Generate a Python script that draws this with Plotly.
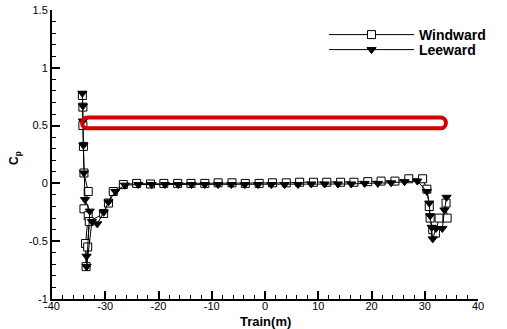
import plotly.graph_objects as go

# ---- data ----
windward_x = [-34.3, -34.2, -34.2, -34.1, -34.0, -33.2, -34.0, -33.2, -33.7, -33.6, -33.3, -33.0,
              -30.3, -29.4, -28.5,
              -26.6, -24.1, -21.5, -19.0, -16.4, -13.9, -11.3, -8.8, -6.2, -3.7, -1.1, 1.4,
              4.0, 6.5, 9.1, 11.6, 14.2, 16.7, 19.3, 21.8, 24.4, 27.0, 29.6,
              30.4, 30.85, 31.0, 31.5, 32.0, 32.7, 34.2, 34.0]
windward_cp = [0.76, 0.66, 0.50, 0.32, 0.09, -0.07, -0.22, -0.28, -0.52, -0.72, -0.55, -0.33,
               -0.26, -0.17, -0.07,
               -0.01, 0.0, -0.005, 0.0, 0.0, 0.0, 0.0, 0.005, 0.005, 0.0, 0.0, 0.005,
               0.005, 0.01, 0.01, 0.01, 0.01, 0.01, 0.015, 0.02, 0.02, 0.04, 0.04,
               -0.05, -0.20, -0.30, -0.40, -0.43, -0.30, -0.30, -0.17]

leeward_x = [-34.3, -34.2, -34.2, -34.1, -34.0, -33.8, -32.9, -33.5, -33.5, -32.5, -31.5,
             -30.3, -29.4, -28.1,
             -26.3, -23.8, -21.3, -18.8, -16.3, -13.8, -11.3, -8.8, -6.3, -3.8, -1.3, 1.2,
             3.7, 6.2, 8.7, 11.2, 13.7, 16.2, 18.7, 21.2, 23.7, 26.2, 28.6,
             30.4, 30.85, 31.0, 31.3, 31.5, 32.1, 33.3, 33.7, 34.1]
leeward_cp = [0.78, 0.67, 0.54, 0.33, 0.09, -0.14, -0.24, -0.63, -0.72, -0.33, -0.35,
              -0.25, -0.16, -0.07,
              -0.015, -0.01, -0.01, -0.01, -0.01, -0.01, -0.01, -0.01, -0.01, -0.01, -0.01, -0.01,
              -0.01, -0.01, -0.005, -0.005, -0.005, -0.005, 0.0, 0.0, 0.005, 0.015, 0.02,
              -0.07, -0.17, -0.28, -0.38, -0.48, -0.39, -0.39, -0.23, -0.12]

x_ticks = [-40, -30, -20, -10, 0, 10, 20, 30, 40]
x_tick_labels = ["-40", "-30", "-20", "-10", "0", "10", "20", "30", "40"]
y_ticks = [-1, -0.5, 0, 0.5, 1, 1.5]
y_tick_labels = ["-1", "-0.5", "0", "0.5", "1", "1.5"]

# highlighted band (red rounded box)
band_x0, band_x1 = -34.35, 33.98
band_y0, band_y1 = 0.476, 0.571

W, H = 507, 329
ML, MR, MT, MB = 52, 29, 10, 30
PW, PH = W - ML - MR, H - MT - MB


def px_to_paper_x(px):
    return (px - ML) / PW


def px_to_paper_y(py):
    return (H - MB - py) / PH


fig = go.Figure()
fig.add_trace(go.Scatter(
    x=windward_x, y=windward_cp, mode="lines+markers", name="Windward",
    line=dict(color="black", width=1), legend="legend",
    marker=dict(symbol="square", size=8, color="white", line=dict(color="black", width=1)),
))
fig.add_trace(go.Scatter(
    x=leeward_x, y=leeward_cp, mode="lines+markers", name="Leeward",
    line=dict(color="black", width=1), legend="legend2",
    marker=dict(symbol="triangle-down", size=8, color="black", line=dict(color="black", width=1)),
))

# rounded rectangle path (semicircular ends)
ry = (band_y1 - band_y0) / 2
ym = (band_y0 + band_y1) / 2
rx = ry * (PH / 2.5) / (PW / 80.0)
k = 0.5523
path = (
    f"M {band_x0 + rx},{band_y1} L {band_x1 - rx},{band_y1} "
    f"C {band_x1 - rx + k * rx},{band_y1} {band_x1},{ym + k * ry} {band_x1},{ym} "
    f"C {band_x1},{ym - k * ry} {band_x1 - rx + k * rx},{band_y0} {band_x1 - rx},{band_y0} "
    f"L {band_x0 + rx},{band_y0} "
    f"C {band_x0 + rx - k * rx},{band_y0} {band_x0},{ym - k * ry} {band_x0},{ym} "
    f"C {band_x0},{ym + k * ry} {band_x0 + rx - k * rx},{band_y1} {band_x0 + rx},{band_y1} Z"
)
fig.add_shape(type="path", path=path, xref="x", yref="y",
              line=dict(color="#d40000", width=4), layer="above")

legend_common = dict(xanchor="left", yanchor="middle", bgcolor="rgba(0,0,0,0)",
                     itemwidth=85, font=dict(size=14, weight="bold", color="black"))

fig.update_layout(
    width=W, height=H,
    margin=dict(l=ML, r=MR, t=MT, b=MB),
    paper_bgcolor="white", plot_bgcolor="white",
    font=dict(family="Arial, Liberation Sans, sans-serif", color="black", size=11),
    showlegend=True,
    legend=dict(x=px_to_paper_x(324), y=px_to_paper_y(35), **legend_common),
    legend2=dict(x=px_to_paper_x(324), y=px_to_paper_y(50), **legend_common),
)
fig.update_xaxes(
    range=[-40, 40], tickmode="array", tickvals=x_ticks, ticktext=x_tick_labels,
    ticks="inside", ticklen=8, tickwidth=1.5, tickcolor="black", automargin=False,
    ticklabelstandoff=-4,
    showline=True, linecolor="black", linewidth=2, showgrid=False, zeroline=False,
    minor=dict(dtick=2, ticks="inside", ticklen=4, tickwidth=1, tickcolor="black"),
)
fig.update_yaxes(
    range=[-1, 1.5], tickmode="array", tickvals=y_ticks, ticktext=y_tick_labels,
    ticks="inside", ticklen=8, tickwidth=1.5, tickcolor="black", automargin=False,
    showline=True, linecolor="black", linewidth=2, showgrid=False, zeroline=False,
    minor=dict(dtick=0.1, ticks="inside", ticklen=4, tickwidth=1, tickcolor="black"),
)

fig.add_annotation(text="<b>Train(m)</b>", xref="paper", yref="paper",
                   x=0.5, y=px_to_paper_y(321), xanchor="center", yanchor="middle",
                   showarrow=False, font=dict(size=13))
fig.add_annotation(text="<b>C<sub>p</sub></b>", xref="paper", yref="paper",
                   x=px_to_paper_x(15), y=px_to_paper_y(158), xanchor="center", yanchor="middle",
                   textangle=-90, showarrow=False, font=dict(size=12))

fig.write_html(
    "out.html",
    config={"displayModeBar": False},
    post_script="document.body.style.margin='0';document.body.style.overflow='hidden';",
)
